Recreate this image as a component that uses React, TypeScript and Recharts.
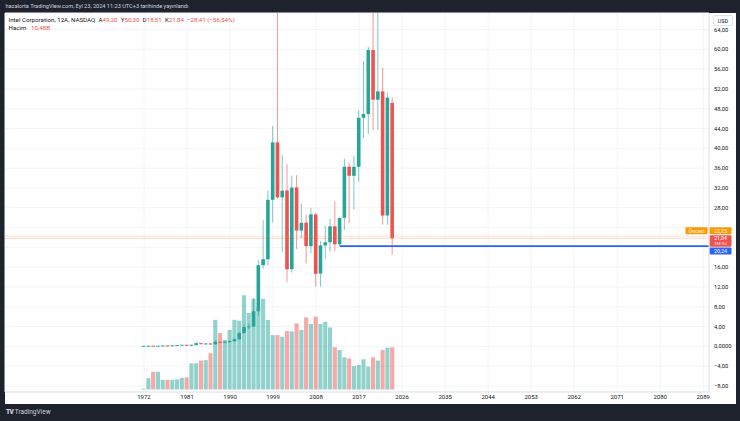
import React from 'react';
import { ComposedChart, Bar, XAxis, YAxis, CartesianGrid, ReferenceLine } from 'recharts';

const years = [1972, 1973, 1974, 1975, 1976, 1977, 1978, 1979, 1980, 1981, 1982, 1983, 1984, 1985, 1986, 1987, 1988, 1989, 1990, 1991, 1992, 1993, 1994, 1995, 1996, 1997, 1998, 1999, 2000, 2001, 2002, 2003, 2004, 2005, 2006, 2007, 2008, 2009, 2010, 2011, 2012, 2013, 2014, 2015, 2016, 2017, 2018, 2019, 2020, 2021, 2022, 2023, 2024];
const opens = [0.02, 0.03, 0.05, 0.03, 0.07, 0.10, 0.09, 0.14, 0.20, 0.27, 0.20, 0.25, 0.65, 0.45, 0.55, 0.42, 0.95, 0.75, 0.92, 1.05, 1.45, 2.7, 3.9, 4.0, 7.1, 16.4, 17.6, 29.6, 41.2, 30.1, 31.5, 15.6, 32.1, 23.4, 25.0, 20.25, 26.66, 14.7, 20.4, 21.03, 24.25, 20.62, 25.96, 36.29, 34.45, 36.27, 46.16, 46.93, 59.85, 49.82, 51.5, 26.43, 49.2];
const highs = [0.05, 0.08, 0.07, 0.08, 0.12, 0.13, 0.16, 0.22, 0.30, 0.32, 0.34, 0.85, 0.75, 0.62, 0.70, 1.25, 1.0, 1.0, 1.2, 1.6, 2.9, 4.5, 4.6, 9.8, 17.4, 25.5, 31.5, 44.5, 75.81, 38.6, 36.8, 34.5, 34.6, 28.84, 26.6, 27.99, 27.0, 21.27, 24.37, 25.78, 29.27, 25.98, 37.9, 37.15, 38.45, 47.64, 57.6, 60.48, 69.29, 68.49, 56.28, 51.28, 50.3];
const lows = [0.01, 0.02, 0.02, 0.02, 0.06, 0.07, 0.08, 0.12, 0.15, 0.17, 0.14, 0.22, 0.40, 0.40, 0.38, 0.40, 0.6, 0.65, 0.7, 0.9, 1.3, 2.6, 3.5, 3.9, 6.2, 15.7, 16.4, 25.0, 29.8, 18.96, 12.95, 14.9, 19.64, 21.89, 16.75, 18.75, 12.05, 12.05, 17.6, 19.16, 19.23, 20.1, 23.5, 24.87, 27.68, 33.23, 42.04, 42.86, 43.61, 43.63, 24.59, 24.59, 18.51];
const closes = [0.03, 0.05, 0.03, 0.07, 0.10, 0.09, 0.14, 0.20, 0.27, 0.20, 0.25, 0.65, 0.45, 0.55, 0.42, 0.95, 0.75, 0.92, 1.05, 1.45, 2.7, 3.9, 4.0, 7.1, 16.4, 17.6, 29.6, 41.2, 30.1, 31.45, 15.57, 32.07, 23.39, 24.96, 20.25, 26.66, 14.66, 20.4, 21.03, 24.25, 20.62, 25.96, 36.29, 34.45, 36.27, 46.16, 46.93, 59.85, 49.82, 51.5, 26.43, 50.25, 21.84];
const volumes = [0.2, 2.8, 4.4, 4.4, 2.4, 2.4, 2.4, 2.5, 2.9, 3.0, 6.5, 6.5, 7.2, 7.3, 9.0, 17.3, 14.0, 12.3, 14.8, 17.3, 17.1, 23.4, 19.0, 22.5, 20.4, 22.5, 17.3, 13.5, 13.5, 13.1, 14.5, 14.4, 16.4, 14.8, 17.9, 16.3, 18.1, 16.3, 16.8, 15.4, 10.5, 9.8, 8.0, 7.7, 5.8, 6.1, 7.5, 5.7, 8.0, 7.2, 9.8, 10.4, 10.48];

const yearTicks = [1972, 1981, 1990, 1999, 2008, 2017, 2026, 2035, 2044, 2053, 2062, 2071, 2080, 2089];
const priceTicks = [-8, -4, 0, 4, 8, 12, 16, 20, 24, 28, 32, 36, 40, 44, 48, 52, 56, 60, 64];
const hiddenPriceLabels = [20, 24];

const prePrice = 22.25;
const lastPrice = 21.84;
const linePrice = 20.24;
const lineStartYear = 2013;

const UP = '#26a69a';
const DOWN = '#ef5350';
const FONT = 'Roboto, "Noto Sans", sans-serif';
const X_DOMAIN: [number, number] = [1942.92, 2090.2];

const rows = years.map((year, i) => ({
  year,
  open: opens[i],
  high: highs[i],
  low: lows[i],
  close: closes[i],
  vol: volumes[i],
  range: [lows[i], highs[i]],
}));

const fmtPrice = (v: number) => {
  if (v === 0) return '0,0000';
  const s = Math.abs(v).toFixed(2).replace('.', ',');
  return (v < 0 ? '\u2212' : '') + s;
};

const PriceTick = (props: any) => {
  const { x, y, payload } = props;
  if (!payload || hiddenPriceLabels.includes(payload.value)) return null;
  return (
    <text x={x} y={y} dy="0.355em" fontSize={5.8} fill="#131722" fontFamily={FONT} textAnchor="start">
      {fmtPrice(payload.value)}
    </text>
  );
};

const Candle = (props: any) => {
  const { x, y, width, height, payload } = props;
  if (x == null || y == null || !payload) return null;
  const top = Math.min(y, y + height);
  const h = Math.abs(height);
  const { open, close, high, low } = payload;
  const k = high > low ? h / (high - low) : 0;
  const py = (v: number) => top + (high - v) * k;
  const cx = x + width / 2;
  const col = close >= open ? UP : DOWN;
  let b1 = py(Math.max(open, close));
  let b2 = py(Math.min(open, close));
  if (b2 - b1 < 1) {
    const m = (b1 + b2) / 2;
    b1 = m - 0.5;
    b2 = m + 0.5;
  }
  const bw = 3.6;
  return (
    <g>
      <line x1={cx} x2={cx} y1={top} y2={top + h} stroke={col} strokeOpacity={0.6} strokeWidth={1} />
      <rect x={cx - bw / 2} y={b1} width={bw} height={b2 - b1} fill={col} />
    </g>
  );
};

const Vol = (props: any) => {
  const { x, y, width, height, payload } = props;
  if (x == null || y == null || !payload) return null;
  const col = payload.close >= payload.open ? UP : DOWN;
  const cx = x + width / 2;
  const w = 4.1;
  return <rect x={cx - w / 2} y={Math.min(y, y + height)} width={w} height={Math.abs(height)} fill={col} fillOpacity={0.5} />;
};

const Tag = (props: any) => {
  const { viewBox, kind } = props;
  if (!viewBox) return null;
  const ly = viewBox.y;
  const rx = viewBox.x + viewBox.width + 0.5;
  const w = 22;
  if (kind === 'pre') {
    const t = ly - 9;
    return (
      <g fontFamily={FONT}>
        <rect x={rx - 24} y={t} width={22} height={7} fill="#ff9800" rx={1} />
        <text x={rx - 13} y={t + 3.6} fontSize={5.2} fill="#fff" textAnchor="middle" dominantBaseline="central">Öncesi</text>
        <rect x={rx} y={t} width={w} height={7} fill="#ff9800" rx={1} />
        <text x={rx + w / 2} y={t + 3.6} fontSize={5.4} fill="#fff" textAnchor="middle" dominantBaseline="central">{fmtPrice(prePrice)}</text>
      </g>
    );
  }
  if (kind === 'last') {
    const t = ly - 3.0;
    return (
      <g fontFamily={FONT}>
        <rect x={rx} y={t} width={w} height={11.5} fill="#ef5350" rx={1} />
        <text x={rx + w / 2} y={t + 3.2} fontSize={5.2} fill="#fff" textAnchor="middle" dominantBaseline="central">{fmtPrice(lastPrice)}</text>
        <text x={rx + w / 2} y={t + 8.5} fontSize={4.4} fill="#fde0e0" textAnchor="middle" dominantBaseline="central">3M 9d</text>
      </g>
    );
  }
  const t = ly + 1.3;
  return (
    <g fontFamily={FONT}>
      <rect x={rx} y={t} width={w} height={7} fill="#2962ff" rx={1} />
      <text x={rx + w / 2} y={t + 3.7} fontSize={5.4} fill="#fff" textAnchor="middle" dominantBaseline="central">{fmtPrice(linePrice)}</text>
    </g>
  );
};

export default function App() {
  const red = { color: '#ef5350' };
  return (
    <div style={{ position: 'fixed', left: 0, top: 0, width: 740, height: 421, background: '#1e222d', overflow: 'hidden', fontFamily: FONT }}>
      <div style={{ position: 'absolute', left: 5, top: 13, width: 731, height: 391, background: '#ffffff' }} />
      <div style={{ position: 'absolute', left: 0, top: 0 }}>
        <ComposedChart width={740} height={421} data={rows} margin={{ top: 13, right: 0, bottom: 17, left: 5 }}>
          <CartesianGrid xAxisId="x" yAxisId="p" stroke="#f2f4f9" strokeWidth={1} />
          <XAxis
            xAxisId="x"
            dataKey="year"
            type="number"
            domain={X_DOMAIN}
            allowDataOverflow
            ticks={yearTicks}
            interval={0}
            height={12}
            tickLine={false}
            tickSize={0}
            tickMargin={3}
            axisLine={{ stroke: '#e0e3eb' }}
            tick={{ fontSize: 6, fill: '#131722', fontFamily: FONT }}
          />
          <XAxis xAxisId="xv" dataKey="year" type="number" domain={X_DOMAIN} allowDataOverflow hide />
          <YAxis
            yAxisId="p"
            orientation="right"
            type="number"
            width={31}
            domain={[-9.21, 67.33]}
            allowDataOverflow
            ticks={priceTicks}
            interval={0}
            tickLine={false}
            tickSize={0}
            tickMargin={5}
            axisLine={{ stroke: '#e0e3eb' }}
            tick={<PriceTick />}
          />
          <YAxis yAxisId="v" hide type="number" domain={[-0.62, 93.49]} allowDataOverflow />
          <Bar xAxisId="xv" yAxisId="v" dataKey="vol" barSize={4} shape={<Vol />} isAnimationActive={false} />
          <ReferenceLine xAxisId="x" yAxisId="p" y={prePrice} stroke="#ff9800" strokeOpacity={0.25} label={<Tag kind="pre" />} />
          <ReferenceLine xAxisId="x" yAxisId="p" y={lastPrice} stroke="#ef5350" strokeOpacity={0.25} label={<Tag kind="last" />} />
          <Bar xAxisId="x" yAxisId="p" dataKey="range" barSize={4} shape={<Candle />} isAnimationActive={false} />
          <ReferenceLine
            xAxisId="x"
            yAxisId="p"
            segment={[{ x: lineStartYear, y: linePrice }, { x: 2090.2, y: linePrice }]}
            stroke="#2962ff"
            strokeWidth={1.6}
            ifOverflow="hidden"
          />
          <ReferenceLine xAxisId="x" yAxisId="p" y={linePrice} stroke="none" strokeOpacity={0} label={<Tag kind="line" />} />
        </ComposedChart>
      </div>
      <div style={{ position: 'absolute', left: 5.5, top: 3, fontSize: 5.6, lineHeight: '7px', color: '#d1d4dc', whiteSpace: 'pre' }}>
        hazalorta TradingView.com, Eyl 23, 2024 11:23 UTC+3 tarihinde yayınlandı
      </div>
      <div style={{ position: 'absolute', left: 8.5, top: 17, fontSize: 6.2, lineHeight: '7.5px', color: '#131722', whiteSpace: 'pre' }}>
        Intel Corporation, 12A, NASDAQ  A<span style={red}>49,20</span>  Y<span style={red}>50,30</span>  D<span style={red}>18,51</span>  K<span style={red}>21,84</span>  <span style={red}>{'\u221228,41 (\u221256,54%)'}</span>
      </div>
      <div style={{ position: 'absolute', left: 8.5, top: 25, fontSize: 6.2, lineHeight: '7.5px', color: '#131722', whiteSpace: 'pre' }}>
        Hacim   <span style={red}>10,48B</span>
      </div>
      <div style={{ position: 'absolute', left: 713, top: 15, width: 20, height: 11, background: '#fff', border: '1px solid #e0e3eb', borderRadius: 2, fontSize: 5.5, lineHeight: '11px', color: '#131722', textAlign: 'center', boxSizing: 'border-box' }}>
        USD
      </div>
      <div style={{ position: 'absolute', left: 6, top: 408, fontSize: 6.5, lineHeight: '8px', color: '#d1d4dc', whiteSpace: 'pre' }}>
        <span style={{ fontWeight: 900, letterSpacing: -0.6 }}>TV</span> TradingView
      </div>
    </div>
  );
}
